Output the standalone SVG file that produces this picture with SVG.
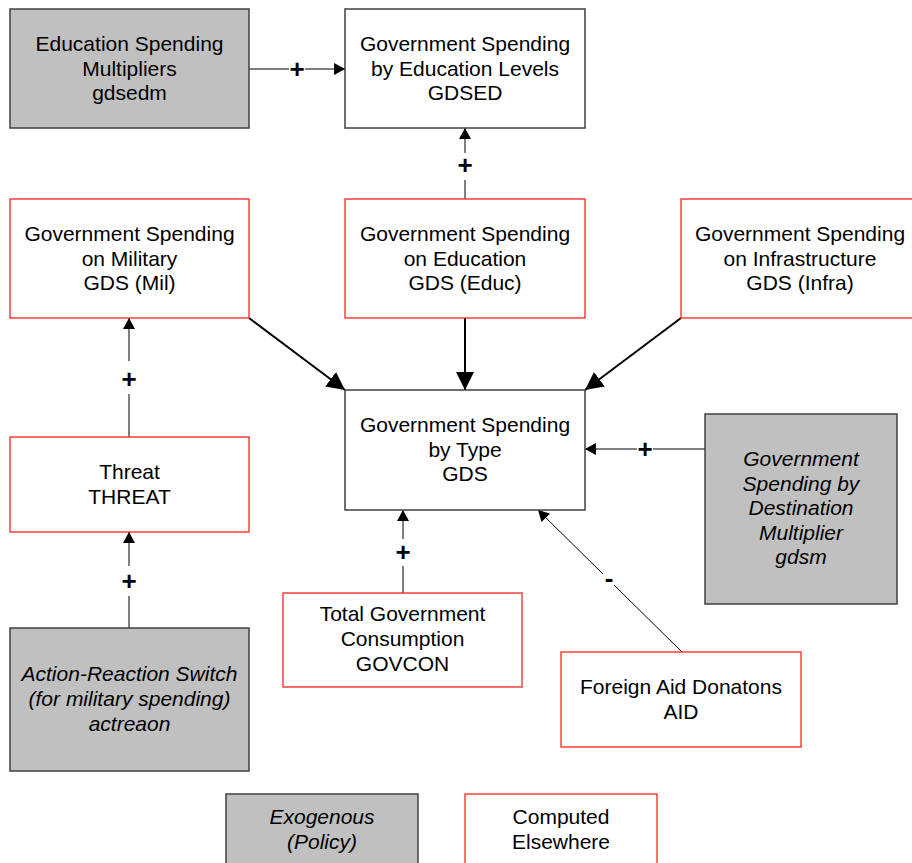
<svg xmlns="http://www.w3.org/2000/svg" width="912" height="863" viewBox="0 0 912 863">
  <style>
    .lbl { font-family: "Liberation Sans", Arial, sans-serif; font-size: 21px; fill: #000; text-anchor: middle; }
    .it { font-style: italic; }
    .sign { font-family: "Liberation Sans", Arial, sans-serif; font-size: 26px; font-weight: bold; fill: #000; text-anchor: middle; }
    .exo { fill: #c0c0c0; stroke: #404040; stroke-width: 1.5; }
    .calc { fill: #ffffff; stroke: #404040; stroke-width: 1.5; }
    .ext { fill: #ffffff; stroke: #ff2020; stroke-width: 1.3; }
    .thin { stroke: #000; stroke-width: 1; fill: none; marker-end: url(#tipS); }
    .thick { stroke: #000; stroke-width: 2; fill: none; marker-end: url(#tipL); }
    .seg { stroke: #000; stroke-width: 1; fill: none; }
  </style>
  <defs>
    <marker id="tipS" markerUnits="userSpaceOnUse" markerWidth="12" markerHeight="12" viewBox="0 0 10 11" refX="10" refY="5.5" orient="auto">
      <path d="M0,0 L10,5.5 L0,11 z" fill="#000"/>
    </marker>
    <marker id="tipL" markerUnits="userSpaceOnUse" markerWidth="18" markerHeight="18" viewBox="0 0 17 17" refX="17" refY="8.5" orient="auto">
      <path d="M0,0 L17,8.5 L0,17 z" fill="#000"/>
    </marker>
  </defs>

  <rect width="912" height="863" fill="#ffffff"/>

  <!-- connectors -->
  <g id="connectors">
    <!-- gdsedm -> GDSED -->
    <line class="seg" x1="249" y1="69" x2="289" y2="69"/>
    <line class="thin" x1="305" y1="69" x2="345" y2="69"/>
    <text class="sign" x="297" y="78">+</text>

    <!-- GDS (Educ) -> GDSED -->
    <line class="seg" x1="465" y1="199" x2="465" y2="180"/>
    <line class="thin" x1="465" y1="153" x2="465" y2="128"/>
    <text class="sign" x="465" y="174">+</text>

    <!-- three spending types -> GDS -->
    <line class="thick" x1="249" y1="318" x2="345" y2="390"/>
    <line class="thick" x1="465" y1="318" x2="465" y2="390"/>
    <line class="thick" x1="681" y1="318" x2="585" y2="390"/>

    <!-- gdsm -> GDS -->
    <line class="seg" x1="705" y1="449" x2="653" y2="449"/>
    <line class="thin" x1="637" y1="449" x2="585" y2="449"/>
    <text class="sign" x="645" y="458">+</text>

    <!-- GOVCON -> GDS -->
    <line class="seg" x1="403" y1="593" x2="403" y2="566"/>
    <line class="thin" x1="403" y1="539" x2="403" y2="510"/>
    <text class="sign" x="403" y="561">+</text>

    <!-- AID -> GDS -->
    <line class="seg" x1="682" y1="652" x2="614" y2="585"/>
    <line class="thin" x1="603" y1="574" x2="538" y2="510"/>
    <text class="sign" x="609" y="587">-</text>

    <!-- THREAT -> GDS (Mil) -->
    <line class="seg" x1="129" y1="437" x2="129" y2="394"/>
    <line class="thin" x1="129" y1="361" x2="129" y2="318"/>
    <text class="sign" x="129" y="388">+</text>

    <!-- actreaon -> THREAT -->
    <line class="seg" x1="129" y1="628" x2="129" y2="596"/>
    <line class="thin" x1="129" y1="566" x2="129" y2="532"/>
    <text class="sign" x="129" y="590">+</text>
  </g>

  <!-- nodes -->
  <g id="gdsedm">
    <rect class="exo" x="10" y="9" width="239" height="119"/>
    <text class="lbl" x="129.5" y="51">Education Spending<tspan x="129.5" dy="24.5">Multipliers</tspan><tspan x="129.5" dy="24.5">gdsedm</tspan></text>
  </g>

  <g id="GDSED">
    <rect class="calc" x="345" y="9" width="240" height="119"/>
    <text class="lbl" x="465" y="51">Government Spending<tspan x="465" dy="24.5">by Education Levels</tspan><tspan x="465" dy="24.5">GDSED</tspan></text>
  </g>

  <g id="GDS_Mil">
    <rect class="ext" x="10" y="199" width="239" height="119"/>
    <text class="lbl" x="129.5" y="241">Government Spending<tspan x="129.5" dy="24.5">on Military</tspan><tspan x="129.5" dy="24.5">GDS (Mil)</tspan></text>
  </g>

  <g id="GDS_Educ">
    <rect class="ext" x="345" y="199" width="240" height="119"/>
    <text class="lbl" x="465" y="241">Government Spending<tspan x="465" dy="24.5">on Education</tspan><tspan x="465" dy="24.5">GDS (Educ)</tspan></text>
  </g>

  <g id="GDS_Infra">
    <rect class="ext" x="681" y="199" width="238" height="119"/>
    <text class="lbl" x="800" y="241">Government Spending<tspan x="800" dy="24.5">on Infrastructure</tspan><tspan x="800" dy="24.5">GDS (Infra)</tspan></text>
  </g>

  <g id="GDS">
    <rect class="calc" x="345" y="390" width="240" height="120"/>
    <text class="lbl" x="465" y="432">Government Spending<tspan x="465" dy="24.5">by Type</tspan><tspan x="465" dy="24.5">GDS</tspan></text>
  </g>

  <g id="THREAT">
    <rect class="ext" x="10" y="437" width="239" height="95"/>
    <text class="lbl" x="129.5" y="479">Threat<tspan x="129.5" dy="24.5">THREAT</tspan></text>
  </g>

  <g id="gdsm">
    <rect class="exo" x="705" y="414" width="192" height="190"/>
    <text class="lbl it" x="801" y="466">Government<tspan x="801" dy="24.5">Spending by</tspan><tspan x="801" dy="24.5">Destination</tspan><tspan x="801" dy="24.5">Multiplier</tspan><tspan x="801" dy="24.5">gdsm</tspan></text>
  </g>

  <g id="GOVCON">
    <rect class="ext" x="283" y="593" width="239" height="94"/>
    <text class="lbl" x="402.5" y="621">Total Government<tspan x="402.5" dy="25">Consumption</tspan><tspan x="402.5" dy="25">GOVCON</tspan></text>
  </g>

  <g id="AID">
    <rect class="ext" x="561" y="652" width="240" height="95"/>
    <text class="lbl" x="681" y="693.5">Foreign Aid Donatons<tspan x="681" dy="25">AID</tspan></text>
  </g>

  <g id="actreaon">
    <rect class="exo" x="10" y="628" width="239" height="143"/>
    <text class="lbl it" x="129.5" y="681">Action-Reaction Switch<tspan x="129.5" dy="25">(for military spending)</tspan><tspan x="129.5" dy="25">actreaon</tspan></text>
  </g>

  <!-- legend -->
  <g id="legend_exogenous">
    <rect class="exo" x="226" y="794" width="192" height="74"/>
    <text class="lbl it" x="322" y="824">Exogenous<tspan x="322" dy="24.5">(Policy)</tspan></text>
  </g>

  <g id="legend_computed">
    <rect class="ext" x="465" y="794" width="192" height="74"/>
    <text class="lbl" x="561" y="824">Computed<tspan x="561" dy="24.5">Elsewhere</tspan></text>
  </g>
</svg>
